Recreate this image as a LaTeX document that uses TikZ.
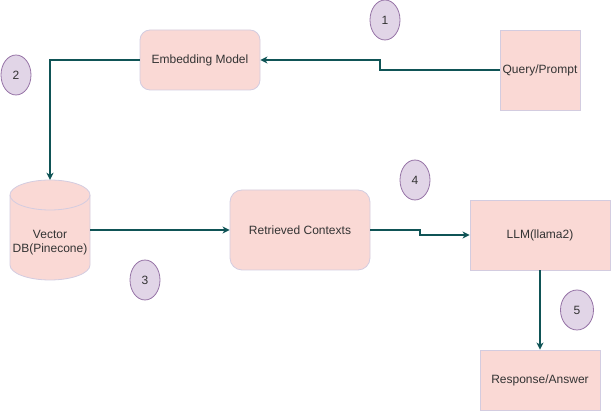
\documentclass[tikz,border=0pt]{standalone}
\usepackage{fontspec}
\setmainfont{Liberation Sans}
\usetikzlibrary{arrows.meta,shapes.geometric}
\definecolor{boxfill}{HTML}{FAD9D5}
\definecolor{boxline}{HTML}{D3CCE0}
\definecolor{numfill}{HTML}{E1D5E7}
\definecolor{numline}{HTML}{9673A6}
\definecolor{flow}{HTML}{0F5456}
\definecolor{txt}{HTML}{333333}
\tikzset{
  boxstyle/.style={draw=boxline, fill=boxfill, line width=0.8pt, text=txt, align=center,
    font=\fontsize{12}{14}\selectfont, inner sep=0pt},
  roundbox/.style={boxstyle, rounded corners=10pt},
  numstyle/.style={ellipse, draw=numline, fill=numfill, line width=0.8pt, text=txt,
    minimum width=30pt, minimum height=40pt, inner sep=0pt, font=\fontsize{12}{14}\selectfont},
  flowline/.style={draw=flow, line width=1.2pt, -{Stealth[length=7pt,width=7pt,inset=2pt]}},
}
\begin{document}
\begin{tikzpicture}[x=1pt,y=-1pt]
\useasboundingbox (0,0) rectangle (611,411);
% boxes
\node[roundbox, minimum width=120pt, minimum height=60pt] (embed) at (200,60) {Embedding Model};
\node[boxstyle, minimum width=80pt, minimum height=80pt] (query) at (540,70) {Query/Prompt};
\node[roundbox, rounded corners=12pt, minimum width=140pt, minimum height=80pt] (ret) at (300,230) {Retrieved Contexts};
\node[boxstyle, minimum width=140pt, minimum height=70pt] (llm) at (540,235) {LLM(llama2)};
\node[boxstyle, minimum width=120pt, minimum height=60pt] (resp) at (540,380) {Response/Answer};
% cylinder
\node[minimum width=80pt, minimum height=100pt, inner sep=0pt] (db) at (50,230) {};
\filldraw[draw=boxline, fill=boxfill, line width=0.8pt]
  (10,195) -- (10,265) arc[start angle=180, end angle=360, x radius=40pt, y radius=15pt] -- (90,195)
  arc[start angle=0, end angle=180, x radius=40pt, y radius=15pt] -- cycle;
\draw[draw=boxline, line width=0.8pt] (10,195) arc[start angle=180, end angle=360, x radius=40pt, y radius=15pt];
\node[text=txt, align=center, font=\fontsize{12}{14}\selectfont, inner sep=0pt] (dbtext) at (50,243) {Vector\\DB(Pinecone)};
% number badges
\node[numstyle] (n1) at (385,20) {1};
\node[numstyle] (n2) at (16,75) {2};
\node[numstyle] (n3) at (145,280) {3};
\node[numstyle] (n4) at (415,180) {4};
\node[numstyle, minimum width=33pt] (n5) at (577,310) {5};
% connectors
\coordinate (q1) at (380,70);
\coordinate (q2) at (380,60);
\draw[flowline] (query.west) -- (q1) -- (q2) -- (embed.east);
\draw[flowline] (embed.west) -| (db.north);
\draw[flowline] (db.east) -- (ret.west);
\coordinate (r1) at (420,230);
\coordinate (r2) at (420,235);
\draw[flowline] (ret.east) -- (r1) -- (r2) -- (llm.west);
\draw[flowline] (llm.south) -- (resp.north);
\end{tikzpicture}
\end{document}
